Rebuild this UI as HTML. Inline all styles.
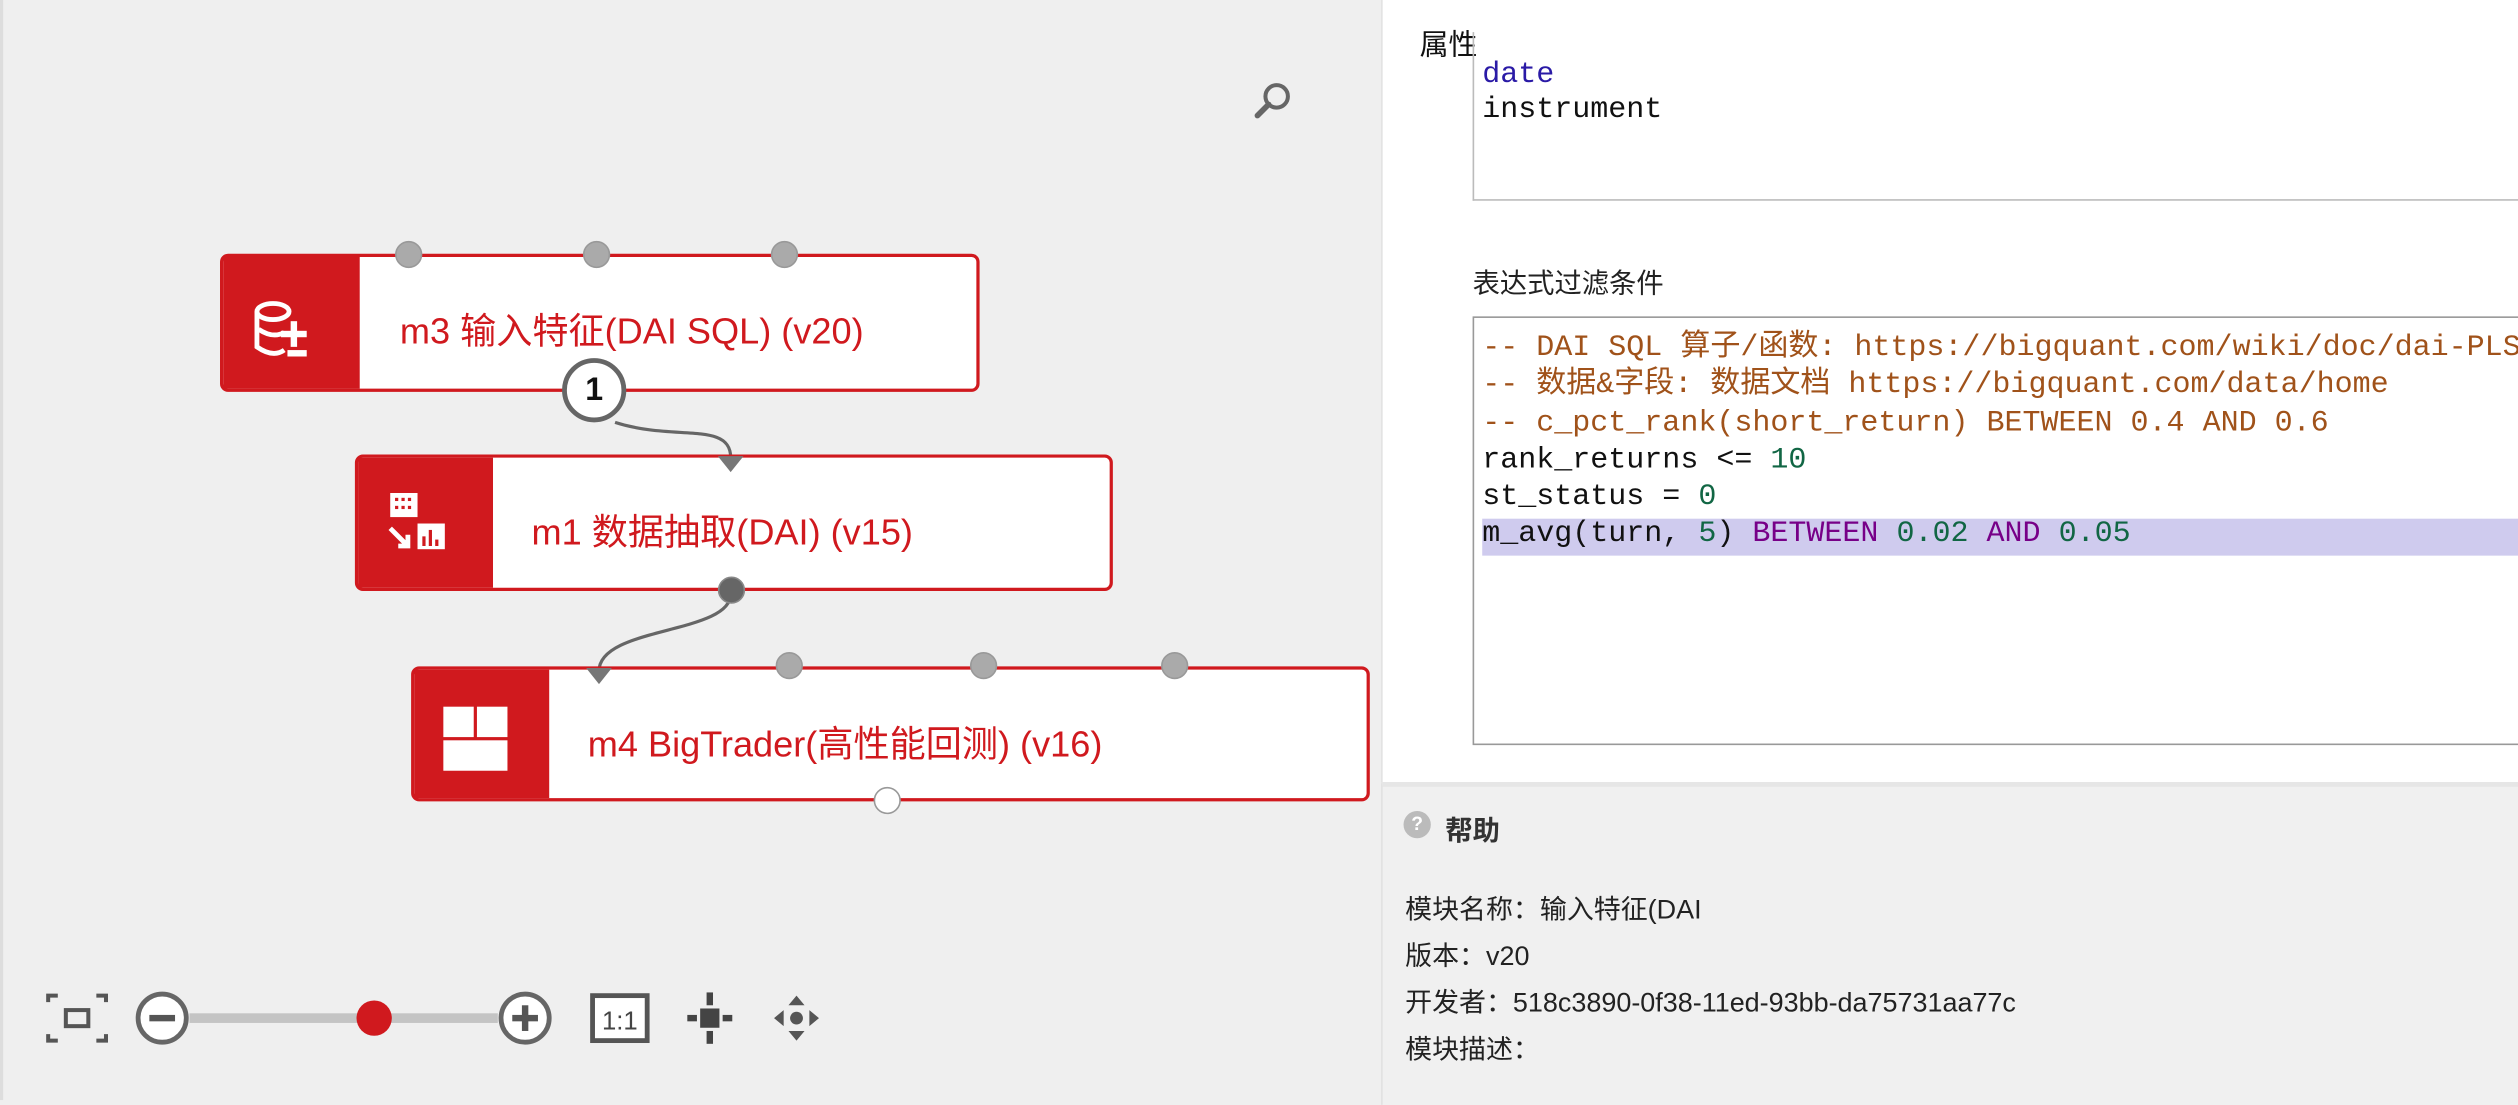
<!DOCTYPE html>
<html><head><meta charset="utf-8"><style>
html,body{margin:0;padding:0;width:2518px;height:1100px;overflow:hidden;background:#efefef}
#w{position:absolute;left:0;top:0;width:1568px;height:685px;transform:scale(1.60587);transform-origin:0 0;font-family:"Liberation Sans","Noto Sans CJK SC",sans-serif}
.node{position:absolute;background:#fff;border:2px solid #d0191e;border-radius:5px;box-sizing:border-box}
.node .ic{position:absolute;left:0;top:0;bottom:0;background:#d0191e}
.node .t{position:absolute;color:#d0191e;font-size:22.5px;white-space:nowrap}
.port{position:absolute;width:17px;height:17px;border-radius:50%;background:#aaa;border:1px solid #999;box-sizing:border-box}
.mono{font-family:"Liberation Mono","Noto Sans CJK SC",monospace;font-size:18.7px}
.c{color:#a0521a}.n{color:#116644}.k{color:#770088}
.help div{position:absolute;left:875px;font-size:16.8px;color:#222;white-space:nowrap}
</style></head><body><div id="w">
<div style="position:absolute;left:0;top:0;width:2px;height:685px;background:#ddd"></div>
<!-- magnifier -->
<svg style="position:absolute;left:780px;top:49px" width="28" height="28"><circle cx="15" cy="11" r="7" fill="none" stroke="#666" stroke-width="2.5"/><line x1="10" y1="16" x2="3" y2="23" stroke="#666" stroke-width="3.5" stroke-linecap="round"/></svg>
<!-- connectors -->
<svg style="position:absolute;left:0;top:0" width="860" height="685">
<path d="M383 263 C420 275 455 262 455 285" fill="none" stroke="#666" stroke-width="2"/>
<path d="M455 370 C455 395 373 390 373 418" fill="none" stroke="#666" stroke-width="2"/>
</svg>
<!-- m3 -->
<div class="node" style="left:137px;top:158px;width:473px;height:86px"><div class="ic" style="width:85px"></div>
<div class="t" style="left:110px;top:29px">m3 输入特征(DAI SQL) (v20)</div></div>
<svg style="position:absolute;left:155px;top:186px" width="45" height="40"><ellipse cx="15" cy="8" rx="10" ry="5" fill="none" stroke="#fff" stroke-width="3"/><path d="M5 8 V30 Q15 37 22 32" fill="none" stroke="#fff" stroke-width="3"/><path d="M6 19 Q15 25 22 21" fill="none" stroke="#fff" stroke-width="3"/><rect x="26" y="14" width="4" height="16" fill="#fff"/><rect x="20" y="20" width="16" height="4" fill="#fff"/><rect x="24" y="32" width="12" height="4" fill="#fff"/></svg>
<div class="port" style="left:246px;top:150px"></div><div class="port" style="left:363px;top:150px"></div><div class="port" style="left:480px;top:150px"></div>
<div style="position:absolute;left:350px;top:223px;width:40px;height:40px;border-radius:50%;background:#fff;border:3px solid #666;box-sizing:border-box;text-align:center;line-height:34px;font-weight:bold;font-size:20px;color:#111">1</div>
<!-- m1 -->
<div class="node" style="left:221px;top:283px;width:472px;height:85px"><div class="ic" style="width:84px"></div>
<div class="t" style="left:108px;top:29px">m1 数据抽取(DAI) (v15)</div></div>
<svg style="position:absolute;left:240px;top:305px" width="40" height="42"><rect x="3" y="2" width="17" height="15" fill="#fff"/><g fill="#d0191e"><rect x="6" y="5" width="2" height="2"/><rect x="10" y="5" width="2" height="2"/><rect x="14" y="5" width="2" height="2"/><rect x="6" y="10" width="2" height="2"/><rect x="10" y="10" width="2" height="2"/><rect x="14" y="10" width="2" height="2"/></g><rect x="20" y="21" width="17" height="16" fill="#fff"/><g fill="#d0191e"><rect x="23" y="29" width="2" height="6"/><rect x="27" y="25" width="2" height="10"/><rect x="31" y="31" width="2" height="4"/></g><path d="M3 24 L14 35 M14 28 V35 H8" stroke="#fff" stroke-width="3" fill="none"/></svg>
<svg style="position:absolute;left:446px;top:283px" width="18" height="12"><path d="M1 1 H17 L9 11Z" fill="#777"/></svg>
<div class="port" style="left:447px;top:359px;background:#666;border-color:#888"></div>
<!-- m4 -->
<div class="node" style="left:256px;top:415px;width:597px;height:84px"><div class="ic" style="width:84px"></div>
<div class="t" style="left:108px;top:29px">m4 BigTrader(高性能回测) (v16)</div></div>
<svg style="position:absolute;left:276px;top:440px" width="42" height="40"><rect x="0" y="0" width="19" height="19" fill="#fff"/><rect x="21" y="0" width="19" height="19" fill="#fff"/><rect x="0" y="21" width="40" height="19" fill="#fff"/></svg>
<svg style="position:absolute;left:364px;top:415px" width="18" height="12"><path d="M1 1 H17 L9 11Z" fill="#777"/></svg>
<div class="port" style="left:483px;top:406px"></div><div class="port" style="left:604px;top:406px"></div><div class="port" style="left:723px;top:406px"></div>
<div class="port" style="left:544px;top:490px;background:#fff;border-color:#999"></div>
<!-- toolbar -->
<svg style="position:absolute;left:20px;top:610px" width="510" height="50">
<g stroke="#555" stroke-width="2.5" fill="none"><path d="M10 14 V10 H16 M40 10 H46 V14 M46 34 V38 H40 M16 38 H10 V34"/><rect x="21" y="19" width="14" height="10"/></g>
<circle cx="81" cy="24" r="15" fill="#fff" stroke="#666" stroke-width="3"/><rect x="73" y="22" width="16" height="4" fill="#555"/>
<rect x="98" y="21" width="192" height="6" fill="#c4c4c4"/><circle cx="213" cy="24" r="11" fill="#d0191e"/>
<circle cx="307" cy="24" r="15" fill="#fff" stroke="#666" stroke-width="3"/><rect x="299" y="22" width="16" height="4" fill="#555"/><rect x="305" y="16" width="4" height="16" fill="#555"/>
<rect x="349" y="10" width="34" height="28" fill="#fff" stroke="#555" stroke-width="3"/><text x="366" y="31" text-anchor="middle" font-size="16" font-family="Liberation Sans" fill="#444">1:1</text>
<g fill="#444"><rect x="416" y="18" width="12" height="12"/><rect x="420" y="8" width="4" height="8"/><rect x="420" y="32" width="4" height="8"/><rect x="408" y="22" width="6" height="4"/><rect x="430" y="22" width="6" height="4"/></g>
<g fill="#555"><circle cx="476" cy="24" r="4"/><path d="M476 10 l-5 6 h10z M476 38 l-5 -6 h10z M462 24 l6 -5 v10z M490 24 l-6 -5 v10z"/></g>
</svg>
<!-- right panel -->
<div style="position:absolute;left:860px;top:0;width:708px;height:487px;background:#fff;border-left:1px solid #e2e2e2"></div>
<div style="position:absolute;left:860px;top:487px;width:708px;height:198px;background:#f0f0f0;border-left:1px solid #e2e2e2;border-top:3px solid #e6e6e6"></div>
<div style="position:absolute;left:884px;top:14px;font-size:18px;color:#111">属性</div>
<div style="position:absolute;left:917px;top:20px;width:660px;height:105px;border:1px solid #bbb;border-top:none;box-sizing:border-box"></div>
<div class="mono" style="position:absolute;left:923px;top:35px;line-height:22px;color:#111"><span style="color:#2a1aa6">date</span><br>instrument</div>
<div style="position:absolute;left:917px;top:162px;font-size:17px;color:#222">表达式过滤条件</div>
<div style="position:absolute;left:917px;top:197px;width:660px;height:267px;border:1px solid #999;box-sizing:border-box;background:#fff;overflow:hidden">
<div style="position:absolute;left:5px;top:125px;width:700px;height:23px;background:#cfcbee"></div>
<div class="mono" style="position:absolute;left:5px;top:7px;line-height:23.3px;color:#111;white-space:pre"><span class="c">-- DAI SQL 算子/函数: https://bigquant.com/wiki/doc/dai-PLSbc1SbZX</span>
<span class="c">-- 数据&amp;字段: 数据文档 https://bigquant.com/data/home</span>
<span class="c">-- c_pct_rank(short_return) BETWEEN 0.4 AND 0.6</span>
rank_returns &lt;= <span class="n">10</span>
st_status = <span class="n">0</span>
m_avg(turn, <span class="n">5</span>) <span class="k">BETWEEN</span> <span class="n">0.02</span> <span class="k">AND</span> <span class="n">0.05</span></div></div>
<div style="position:absolute;left:874px;top:505px;width:17px;height:17px;border-radius:50%;background:#bbb;color:#fff;font-size:12px;font-weight:bold;text-align:center;line-height:17px">?</div>
<div style="position:absolute;left:900px;top:503px;font-size:17px;font-weight:bold;color:#333">帮助</div>
<div class="help"><div style="top:553px">模块名称：输入特征(DAI</div><div style="top:582px">版本：v20</div><div style="top:611px">开发者：518c3890-0f38-11ed-93bb-da75731aa77c</div><div style="top:640px">模块描述：</div></div>
</div></body></html>
